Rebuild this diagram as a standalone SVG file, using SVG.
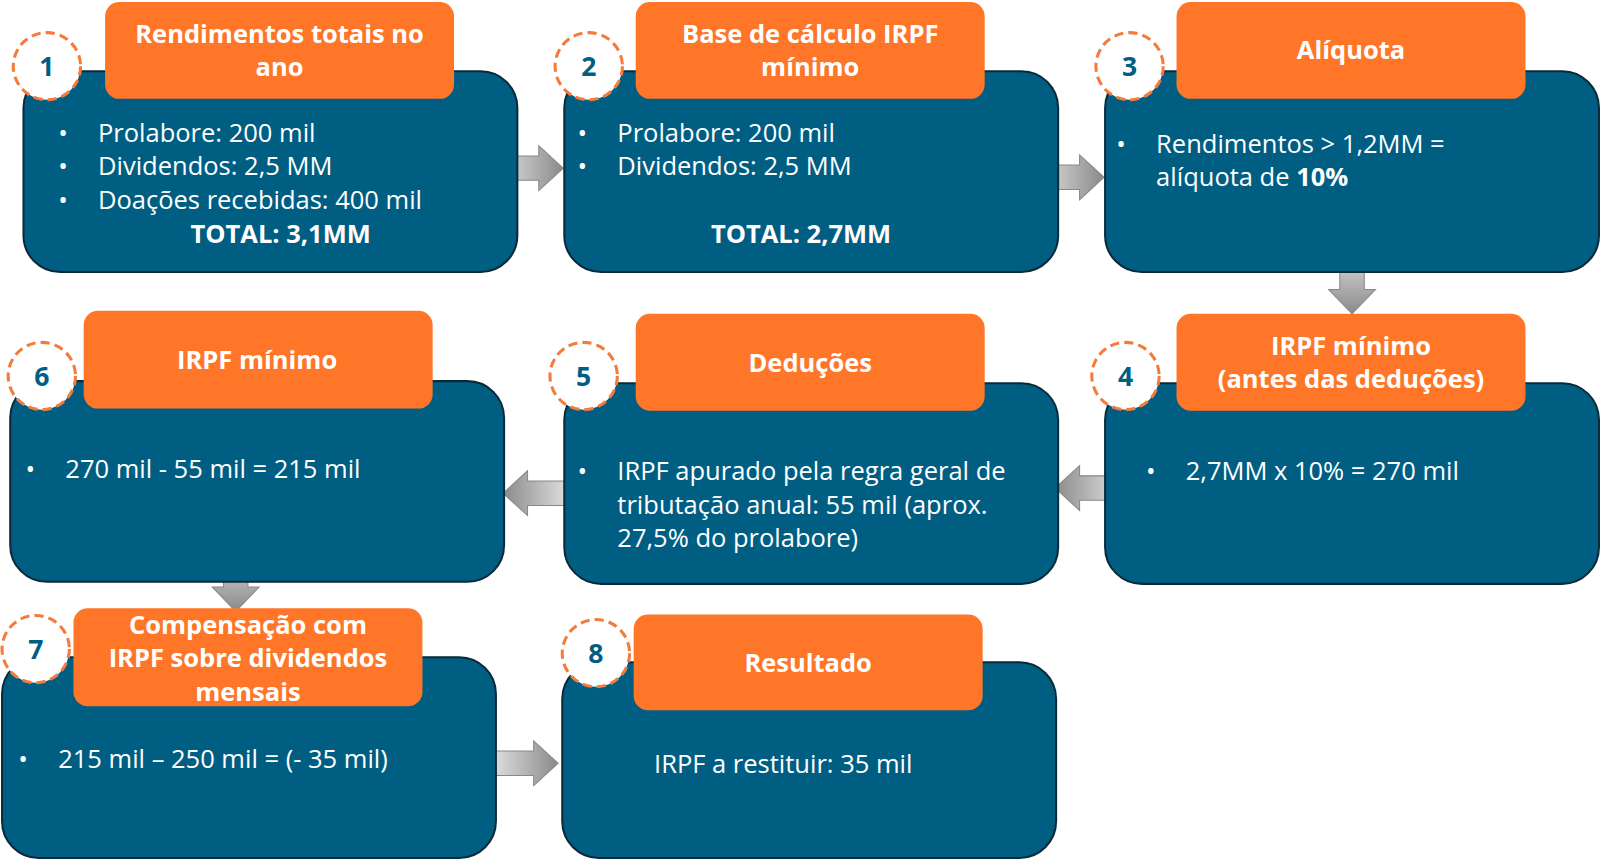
<svg xmlns="http://www.w3.org/2000/svg" width="1600" height="861" viewBox="0 0 1600 861">
<defs>
<linearGradient id="gh" x1="0" y1="0" x2="1" y2="0"><stop offset="0" stop-color="#e6e6e6"/><stop offset="1" stop-color="#8a8a8a"/></linearGradient>
<linearGradient id="gl" x1="1" y1="0" x2="0" y2="0"><stop offset="0" stop-color="#e6e6e6"/><stop offset="1" stop-color="#8a8a8a"/></linearGradient>
<linearGradient id="gv" x1="0" y1="0" x2="0" y2="1"><stop offset="0" stop-color="#e6e6e6"/><stop offset="1" stop-color="#8a8a8a"/></linearGradient>
<style>
.box{fill:#005E83;stroke:#0a2a3a;stroke-width:2}
.lab{fill:#FF7628}
.cir{fill:#fff;stroke:#F47B3A;stroke-width:3;stroke-dasharray:9 5}
.num{font-family:"Open Sans","DejaVu Sans",sans-serif;font-weight:bold;font-size:26px;fill:#005E83;text-anchor:middle}
.t{font-family:"Open Sans","DejaVu Sans",sans-serif;font-weight:bold;font-size:25px;fill:#fff;text-anchor:middle}
.b{font-family:"Open Sans","DejaVu Sans",sans-serif;font-size:25px;fill:#fff}
.arr{stroke:#888;stroke-width:1}
</style>
</defs>
<g transform="scale(1.0204,1.019)">
<g id="connectors">
<polygon class="arr" fill="url(#gh)" points="484,153 528,153 528,143 552,165 528,187 528,177 484,177"/>
<polygon class="arr" fill="url(#gh)" points="1013,162 1058,162 1058,152 1082,174 1058,196 1058,186 1013,186"/>
<polygon class="arr" fill="url(#gv)" points="1313,240 1337,240 1337,284 1348,284 1325,308 1302,284 1313,284"/>
<polygon class="arr" fill="url(#gl)" points="1103,467 1058,467 1058,457 1034,479 1058,501 1058,491 1103,491"/>
<polygon class="arr" fill="url(#gl)" points="562,472 517,472 517,462 493,484 517,506 517,496 562,496"/>
<polygon class="arr" fill="url(#gv)" points="219,534 243,534 243,576 254,576 231,600 208,576 219,576"/>
<polygon class="arr" fill="url(#gh)" points="478,737 523,737 523,727 547,749 523,771 523,761 478,761"/>
</g>
<g id="node1">
<rect class="box" x="23" y="70" width="484" height="197" rx="36"/>
<rect class="lab" x="103" y="2" width="342" height="95" rx="14"/>
<circle class="cir" cx="46" cy="65" r="33"/><text class="num" x="46" y="75">1</text>
<text class="t" x="274" y="42">Rendimentos totais no</text><text class="t" x="274" y="75">ano</text>
<text class="b" x="57" y="139">•</text><text class="b" x="96" y="139">Prolabore: 200 mil</text>
<text class="b" x="57" y="172">•</text><text class="b" x="96" y="172">Dividendos: 2,5 MM</text>
<text class="b" x="57" y="205">•</text><text class="b" x="96" y="205">Doações recebidas: 400 mil</text>
<text class="t" x="275" y="238">TOTAL: 3,1MM</text>
</g>
<g id="node2">
<rect class="box" x="553" y="70" width="484" height="197" rx="36"/>
<rect class="lab" x="623" y="2" width="342" height="95" rx="14"/>
<circle class="cir" cx="577" cy="65" r="33"/><text class="num" x="577" y="75">2</text>
<text class="t" x="794" y="42">Base de cálculo IRPF</text><text class="t" x="794" y="75">mínimo</text>
<text class="b" x="566" y="139">•</text><text class="b" x="605" y="139">Prolabore: 200 mil</text>
<text class="b" x="566" y="172">•</text><text class="b" x="605" y="172">Dividendos: 2,5 MM</text>
<text class="t" x="785" y="238">TOTAL: 2,7MM</text>
</g>
<g id="node3">
<rect class="box" x="1083" y="70" width="484" height="197" rx="36"/>
<rect class="lab" x="1153" y="2" width="342" height="95" rx="14"/>
<circle class="cir" cx="1107" cy="65" r="33"/><text class="num" x="1107" y="75">3</text>
<text class="t" x="1324" y="58">Alíquota</text>
<text class="b" x="1094" y="150">•</text><text class="b" x="1133" y="150">Rendimentos &gt; 1,2MM =</text>
<text class="b" x="1133" y="183">alíquota de <tspan font-weight="bold">10%</tspan></text>
</g>
<g id="node4">
<rect class="box" x="1083" y="376" width="484" height="197" rx="36"/>
<rect class="lab" x="1153" y="308" width="342" height="95" rx="14"/>
<circle class="cir" cx="1103" cy="369" r="33"/><text class="num" x="1103" y="379">4</text>
<text class="t" x="1324" y="348">IRPF mínimo</text><text class="t" x="1324" y="381">(antes das deduções)</text>
<text class="b" x="1123" y="471">•</text><text class="b" x="1162" y="471">2,7MM x 10% = 270 mil</text>
</g>
<g id="node5">
<rect class="box" x="553" y="376" width="484" height="197" rx="36"/>
<rect class="lab" x="623" y="308" width="342" height="95" rx="14"/>
<circle class="cir" cx="572" cy="369" r="33"/><text class="num" x="572" y="379">5</text>
<text class="t" x="794" y="365">Deduções</text>
<text class="b" x="566" y="471">•</text><text class="b" x="605" y="471">IRPF apurado pela regra geral de</text>
<text class="b" x="605" y="504">tributação anual: 55 mil (aprox.</text>
<text class="b" x="605" y="537">27,5% do prolabore)</text>
</g>
<g id="node6">
<rect class="box" x="10" y="374" width="484" height="197" rx="36"/>
<rect class="lab" x="82" y="305" width="342" height="96" rx="14"/>
<circle class="cir" cx="41" cy="369" r="33"/><text class="num" x="41" y="379">6</text>
<text class="t" x="252" y="362">IRPF mínimo</text>
<text class="b" x="25" y="469">•</text><text class="b" x="64" y="469">270 mil - 55 mil = 215 mil</text>
</g>
<g id="node7">
<rect class="box" x="2" y="645" width="484" height="197" rx="36"/>
<rect class="lab" x="72" y="597" width="342" height="96" rx="14"/>
<circle class="cir" cx="35" cy="637" r="33"/><text class="num" x="35" y="647">7</text>
<text class="t" x="243" y="622">Compensação com</text><text class="t" x="243" y="655">IRPF sobre dividendos</text><text class="t" x="243" y="688">mensais</text>
<text class="b" x="18" y="754">•</text><text class="b" x="57" y="754">215 mil – 250 mil = (- 35 mil)</text>
</g>
<g id="node8">
<rect class="box" x="551" y="650" width="484" height="192" rx="36"/>
<rect class="lab" x="621" y="603" width="342" height="94" rx="14"/>
<circle class="cir" cx="584" cy="641" r="33"/><text class="num" x="584" y="651">8</text>
<text class="t" x="792" y="659">Resultado</text>
<text class="b" x="641" y="759">IRPF a restituir: 35 mil</text>
</g>
</g>
</svg>
